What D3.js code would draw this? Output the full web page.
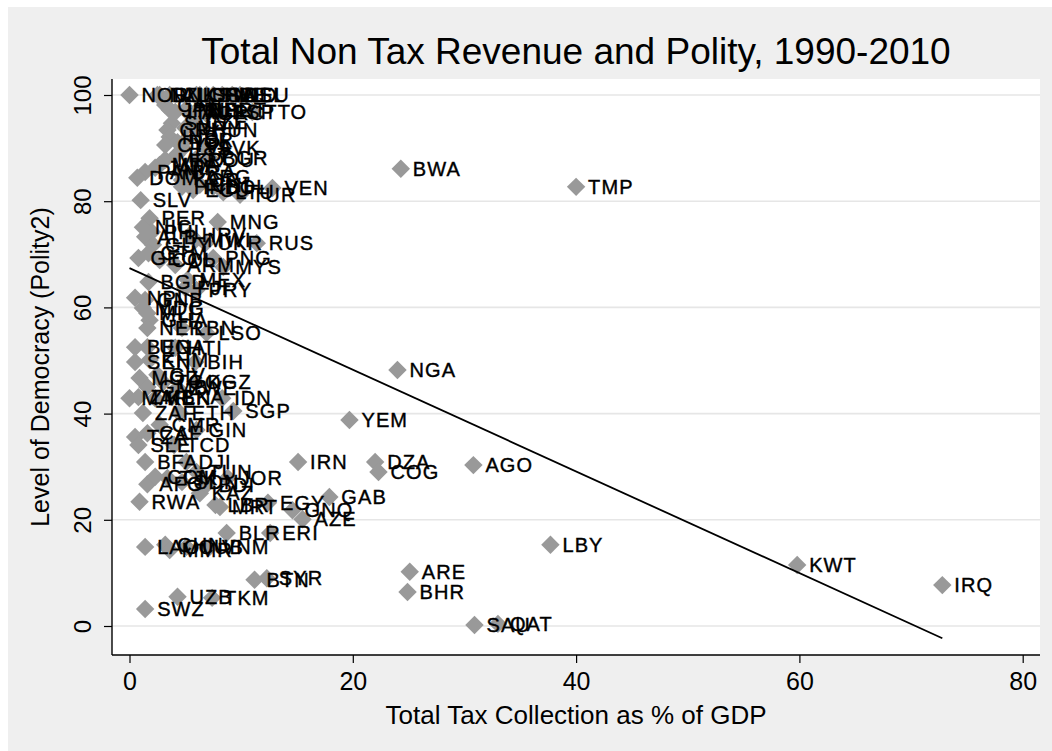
<!DOCTYPE html>
<html>
<head>
<meta charset="utf-8">
<script src="https://cdn.jsdelivr.net/npm/d3@7"></script>
<style>
body { margin: 0; background: #fff; }
text { font-family: "Liberation Sans", Arial, Helvetica, sans-serif; }
</style>
</head>
<body>
<svg id="chart" width="1052" height="751"></svg>
<script>
// country codes, non tax revenue (% GDP) and polity2 (0-100)
const codes = ["NOR","NZL","DNK","AUS","CHE","USA","SWE","FIN","NLD","DEU","ISL",
  "CAN","JPN","ITA","IRL","AUT","BEL","GRC","PRT","ESP","TTO",
  "SVN","CRI","CZE","URY","HUN","IND","POL","ISR","CYP","LVA","SVK","EST",
  "MKD","MDA","ROU","BGR","JAM","PAN","DOM","BRA","KOR","ARG","CHL","BOL","ECU","HND",
  "SLV","LTU","TUR","VEN",
  "PER","MNG","PHL","ALB","GUY","RUS","UKR","MWI","NIC","HRV","GEO","PNG","COL","GTM","MYS","ARM",
  "BGD","MEX","FJI","PRY","GNB","NPL","MDG","MLI","GHA","NER","LBN","LSO",
  "HTI","UGA","BEN","SEN","KHM","BIH","MOZ","CIV","KGZ","TGO","GMB","ZWE",
  "MAR","ZMB","KEN","IDN","LKA","ZAF","ETH","SGP","GIN","CMR","TZA","TCD","CAF","SLE",
  "BFA","DJI","IRN","TJK","SDN","TUN","JOR","AFG","COM","KAZ","BDI","RWA","MRT","LBR",
  "EGY","GAB","GNQ","AZE","BLR","ERI","LAO","CHN","MMR","CUB","VNM",
  "BTN","SYR","UZB","TKM","SWZ",
  "BWA","TMP","NGA","YEM","DZA","COG","AGO","LBY","KWT","IRQ","ARE","BHR","SAU","QAT"];

const nonTax = [0.0,2.5,2.7,3.6,6.0,6.3,6.9,7.5,8.3,9.2,9.9,
  3.2,3.6,4.1,5.0,5.4,6.1,6.8,7.4,8.1,11.0,
  3.8,3.4,5.7,5.0,6.3,3.6,4.3,5.0,3.2,4.8,6.8,4.2,
  3.2,2.7,5.9,7.2,2.3,1.4,0.7,4.5,4.7,5.7,6.3,7.5,5.7,4.7,
  1.0,8.4,9.9,12.8,
  1.8,7.9,2.0,1.4,2.1,11.4,6.8,5.9,1.2,5.4,0.8,7.5,2.7,1.7,8.4,4.1,
  1.7,5.2,5.0,6.0,1.4,0.5,1.2,1.6,1.8,1.6,4.7,6.9,
  4.1,1.6,0.5,0.5,1.8,5.9,0.9,2.5,5.9,3.0,1.6,4.3,
  0.0,0.8,2.3,8.3,3.8,1.2,4.5,9.3,6.0,2.7,0.5,4.0,1.6,0.8,
  1.4,5.1,15.1,3.4,4.7,6.0,8.8,1.6,2.3,6.3,6.9,0.9,8.1,7.7,
  12.4,17.9,14.6,15.5,8.7,12.6,1.4,3.2,3.6,5.1,7.2,
  11.2,12.3,4.3,7.4,1.4,
  24.3,40.0,24.0,19.7,22.0,22.3,30.8,37.7,59.8,72.8,25.1,24.9,30.9,33.0];

const polity = [100,100,100,100,100,100,100,100,100,100,100,
  98.1,97.2,96.8,97.2,96.8,97.2,96.6,97.2,96.8,96.8,
  94.7,93.4,94.9,93.8,93.4,92.1,91.1,91.5,90.6,90.0,90.0,88.7,
  87.8,86.8,87.8,88.1,86.3,85.5,84.4,85.5,84.0,84.6,83.1,82.7,82.1,82.7,
  80.2,81.7,81.2,82.5,
  76.8,76.1,74.2,73.3,71.8,72.1,72.1,72.7,75.1,73.6,69.3,69.3,68.9,70.2,67.6,68.0,
  64.8,65.2,63.7,63.3,61.4,61.8,59.9,58.9,57.6,56.1,56.1,55.2,
  52.4,52.5,52.5,49.7,50.1,49.7,46.7,47.3,45.9,45.9,45.0,44.8,
  42.9,43.1,42.9,42.9,43.1,40.1,40.1,40.5,36.9,37.9,35.6,34.1,36.3,34.1,
  30.9,30.9,30.9,27.9,27.1,29.0,27.9,26.7,28.1,25.0,26.6,23.4,22.4,22.8,
  23.2,24.3,21.8,20.1,17.5,17.5,14.9,15.3,14.3,14.9,14.9,
  8.7,9.0,5.5,5.3,3.2,
  86.1,82.7,48.2,38.8,30.9,29.0,30.3,15.3,11.5,7.7,10.2,6.4,0.2,0.4];

// fitted line end points
const fitX = [0, 72.8];
const fitY = [67.4, -2.3];

const xTicks = [0, 20, 40, 60, 80];
const yTicks = [0, 20, 40, 60, 80, 100];

const svg = d3.select('#chart');

// outer background
svg.append('rect').attr('x', 8).attr('y', 7).attr('width', 1044).attr('height', 744)
  .attr('fill', '#efefef');
// plot region
svg.append('rect').attr('x', 112).attr('y', 79).attr('width', 928).attr('height', 576)
  .attr('fill', '#fff');

const x = d3.scaleLinear().domain([0, 80]).range([129.5, 1022.7]);
const y = d3.scaleLinear().domain([0, 100]).range([626, 95]);

// grid lines
svg.append('g').selectAll('line')
  .data(yTicks)
  .enter()
  .append('line')
  .attr('x1', 112).attr('x2', 1040)
  .attr('y1', d => y(d)).attr('y2', d => y(d))
  .attr('stroke', '#e6e6e6').attr('stroke-width', 1.6);

// y axis
const yAxis = svg.append('g')
  .attr('transform', 'translate(112,0)')
  .call(d3.axisLeft(y).tickValues(yTicks).tickSize(8).tickSizeOuter(0));
yAxis.select('.domain').attr('d', 'M0,79V655').attr('stroke', '#000').attr('stroke-width', 1.4);
yAxis.selectAll('.tick line').attr('stroke', '#000').attr('stroke-width', 1.2);
yAxis.selectAll('.tick text')
  .attr('transform', 'rotate(-90)')
  .attr('x', 0).attr('y', -21).attr('dy', 0)
  .attr('text-anchor', 'middle')
  .style('font-size', '24px').style('font-family', '"Liberation Sans", Arial, sans-serif')
  .attr('fill', '#000');

// x axis
const xAxis = svg.append('g')
  .attr('transform', 'translate(0,655)')
  .call(d3.axisBottom(x).tickValues(xTicks).tickSize(8).tickSizeOuter(0));
xAxis.select('.domain').attr('d', 'M112,0H1040').attr('stroke', '#000').attr('stroke-width', 1.4);
xAxis.selectAll('.tick line').attr('stroke', '#000').attr('stroke-width', 1.2);
xAxis.selectAll('.tick text')
  .attr('y', 35).attr('dy', 0)
  .style('font-size', '25px').style('font-family', '"Liberation Sans", Arial, sans-serif')
  .attr('fill', '#000');

// points
const pts = codes.map((c, i) => ({ code: c, x: nonTax[i], y: polity[i] }));

svg.append('g').selectAll('path')
  .data(pts)
  .enter()
  .append('path')
  .attr('d', d3.symbol().type(d3.symbolSquare).size(170))
  .attr('transform', d => 'translate(' + x(d.x) + ',' + y(d.y) + ') rotate(45)')
  .attr('fill', '#999999');

svg.append('g').selectAll('text')
  .data(pts)
  .enter()
  .append('text')
  .attr('x', d => x(d.x) + 12)
  .attr('y', d => y(d.y))
  .attr('dy', '0.36em')
  .style('font-size', '20px')
  .style('letter-spacing', '1.1px')
  .attr('fill', '#000')
  .attr('stroke', '#000').attr('stroke-width', 0.4)
  .text(d => d.code);

// fitted values
svg.append('line')
  .attr('x1', x(fitX[0])).attr('y1', y(fitY[0]))
  .attr('x2', x(fitX[1])).attr('y2', y(fitY[1]))
  .attr('stroke', '#000').attr('stroke-width', 1.8);

// titles
svg.append('text')
  .attr('x', 576).attr('y', 64)
  .attr('text-anchor', 'middle')
  .style('font-size', '37px')
  .text('Total Non Tax Revenue and Polity, 1990-2010');

svg.append('text')
  .attr('x', 576).attr('y', 724)
  .attr('text-anchor', 'middle')
  .style('font-size', '26px')
  .text('Total Tax Collection as % of GDP');

svg.append('text')
  .attr('transform', 'translate(49,367) rotate(-90)')
  .attr('text-anchor', 'middle')
  .style('font-size', '25px')
  .text('Level of Democracy (Polity2)');
</script>
</body>
</html>
